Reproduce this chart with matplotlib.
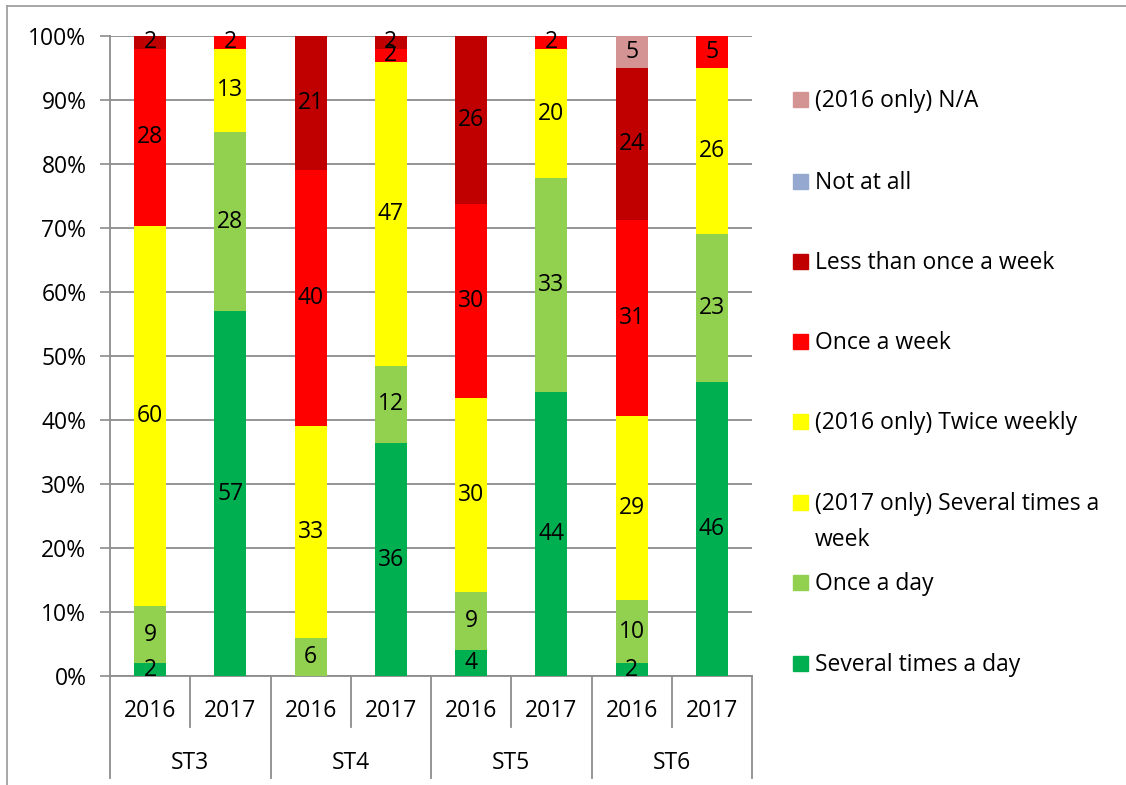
import numpy as np
import matplotlib.pyplot as plt
import matplotlib.patches as mpatches
from matplotlib.ticker import PercentFormatter

plt.rcParams['font.family'] = ['Open Sans', 'DejaVu Sans']

# categories (two level x axis)
years = ["2016", "2017"] * 4
groups = ["ST3", "ST4", "ST5", "ST6"]

# series in stacking order (bottom -> top), counts
several_day = [2, 57, 0, 36, 4, 44, 2, 46]
once_day = [9, 28, 6, 12, 9, 33, 10, 23]
several_week = [0, 13, 0, 47, 0, 20, 0, 26]
twice_weekly = [60, 0, 33, 0, 30, 0, 29, 0]
once_week = [28, 2, 40, 2, 30, 2, 31, 5]
less_week = [2, 0, 21, 2, 26, 0, 24, 0]
not_at_all = [0, 0, 0, 0, 0, 0, 0, 0]
na_2016 = [0, 0, 0, 0, 0, 0, 5, 0]

series = [several_day, once_day, several_week, twice_weekly,
          once_week, less_week, not_at_all, na_2016]
names = ["Several times a day", "Once a day",
         "(2017 only) Several times a\nweek", "(2016 only) Twice weekly",
         "Once a week", "Less than once a week", "Not at all",
         "(2016 only) N/A"]
colors = ["#00B050", "#92D050", "#FFFF00", "#FFFF00", "#FF0000",
          "#C00000", "#95A9D0", "#D49494"]

W, H = 1126, 785
fig = plt.figure(figsize=(W / 100, H / 100), dpi=100)

def fx(px):
    return px / W

def fy(py):
    return 1 - py / H

ax = fig.add_axes([fx(110), fy(676), fx(752) - fx(110), fy(36) - fy(676)])

data = np.array(series, dtype=float)
totals = data.sum(axis=0)
pct = data / totals
x = np.arange(len(years))
bottom = np.zeros(len(years))
fs = 16.5

for vals, p, c in zip(series, pct, colors):
    ax.bar(x, p, 0.4, bottom=bottom, color=c, zorder=3)
    for i in range(len(x)):
        if vals[i] > 0:
            ax.text(x[i], bottom[i] + p[i] / 2, str(vals[i]), ha='center',
                    va='center', fontsize=fs, color='black', zorder=4)
    bottom += p

grey = "#8C8C8C"
ax.set_xlim(-0.5, len(x) - 0.5)
ax.set_ylim(0, 1)
ax.set_yticks(np.arange(0, 1.01, 0.1))
ax.yaxis.set_major_formatter(PercentFormatter(1.0, decimals=0))
ax.tick_params(axis='y', length=7, width=1.2, color=grey, labelsize=fs, pad=10)
ax.set_xticks([])
ax.grid(axis='y', color=grey, linewidth=1.3, zorder=0)
for s in ['top', 'right']:
    ax.spines[s].set_visible(False)
ax.spines['left'].set_color(grey)
ax.spines['bottom'].set_color(grey)
ax.spines['left'].set_linewidth(1.3)
ax.spines['bottom'].set_linewidth(1.3)

# two level category axis
tr = ax.get_xaxis_transform()
y_year = (676 - 727) / 640
y_group = (676 - 778) / 640
for b in np.arange(-0.5, len(x), 1):
    k = int(b + 0.5)
    low = y_group if k % 2 == 0 else y_year
    ax.plot([b, b], [0, low], color=grey, lw=1.3, transform=tr, clip_on=False)
for i, yr in enumerate(years):
    ax.text(x[i], (676 - 711) / 640, yr, transform=tr, ha='center',
            va='center', fontsize=fs)
for j, g in enumerate(groups):
    ax.text(2 * j + 0.5, (676 - 763) / 640, g, transform=tr, ha='center',
            va='center', fontsize=fs)

# legend (top entry first)
leg_y = [100, 182, 262, 342, 422, 503, 583, 664]
for yy, n, c in zip(leg_y, names[::-1], colors[::-1]):
    fig.patches.append(mpatches.Rectangle((fx(793), fy(yy + 7)), fx(15), 15 / H,
                                          color=c, transform=fig.transFigure))
    fig.text(fx(815), fy(yy - 11), n, ha='left', va='top', fontsize=fs,
             linespacing=1.65)

# outer chart frame
fig.add_artist(plt.Line2D([fx(7), 1], [fy(6), fy(6)], color="#A0A0A0", lw=1.3))
fig.add_artist(plt.Line2D([fx(7), fx(7)], [fy(6), 0], color="#A0A0A0", lw=1.3))

fig.savefig("out.png", dpi=100)
